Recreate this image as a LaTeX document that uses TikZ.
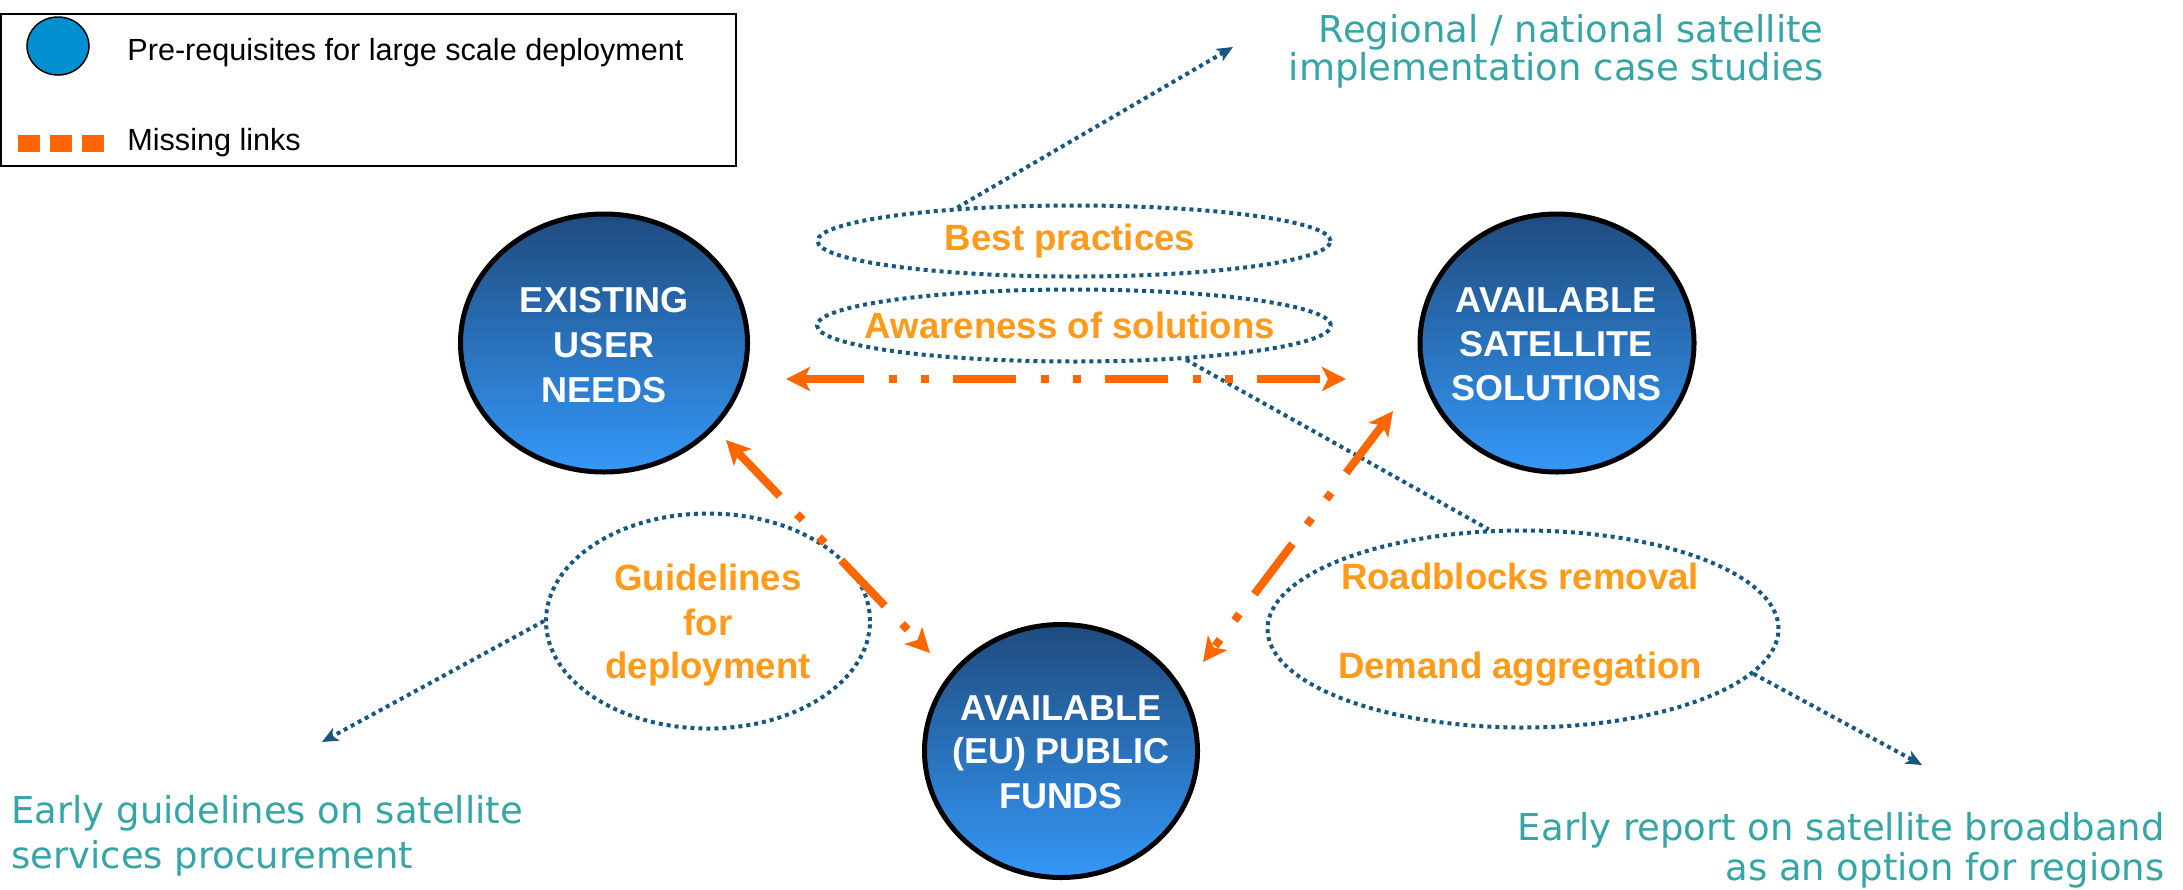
\documentclass[tikz,border=0pt]{standalone}
\usepackage{fontspec}
\setmainfont{Liberation Sans}
\newfontfamily\tealfont{DejaVu Sans}
\usetikzlibrary{shapes.geometric,arrows.meta,calc}
\definecolor{linkorange}{HTML}{FF6600}
\definecolor{txtorange}{HTML}{FF9A1A}
\definecolor{dotblue}{HTML}{175880}
\definecolor{tealtxt}{HTML}{35A5A5}
\definecolor{circtop}{HTML}{1F4B7E}
\definecolor{circbot}{HTML}{3498F8}
\definecolor{legblue}{HTML}{0090D0}
\begin{document}
\begin{tikzpicture}[x=0.5pt,y=-0.5pt,
 pillar/.style={ellipse, draw=black, line width=2.5pt, top color=circtop, bottom color=circbot, inner sep=0pt},
 pillartext/.style={anchor=base, text=white, font=\bfseries\fontsize{18}{20}\selectfont, inner sep=0pt},
 cloud/.style={ellipse, draw=dotblue, line width=2pt, dash pattern=on 2pt off 2pt, inner sep=0pt},
 cloudtext/.style={anchor=base, text=txtorange, font=\bfseries\fontsize{18.3}{20}\selectfont, inner sep=0pt},
 outcome/.style={text=tealtxt, font=\tealfont\fontsize{18.5}{20}\selectfont, inner sep=0pt},
 legtext/.style={anchor=base west, font=\fontsize{15.3}{17}\selectfont, inner sep=0pt},
 link/.style={draw=linkorange, line width=4pt, dash pattern=on 31.5pt off 12.5pt on 4pt off 12pt on 4pt off 12pt, dash phase=1pt, >={Stealth[length=12pt,width=12pt,inset=3pt]}, <->},
 dotline/.style={draw=dotblue, line width=2pt, dash pattern=on 2pt off 2pt},
 pointer/.style={dotline, >={Stealth[length=8pt,width=7pt,inset=2pt]}, ->},
]
\useasboundingbox (0,0) rectangle (2183,889);

% legend
\node[draw=black, line width=1pt, minimum width=367.5pt, minimum height=76pt, inner sep=0pt] (legend) at (368.5,90) {};
\node[ellipse, draw=black, line width=0.75pt, fill=legblue, minimum width=31pt, minimum height=29pt, inner sep=0pt] (legcirc) at (58,46) {};
\node[legtext] (legtxt1) at (127,60) {Pre-requisites for large scale deployment};
\draw[linkorange, line width=8.5pt, dash pattern=on 11pt off 5pt] (18,143) -- (104,143);
\node[legtext] (legtxt2) at (127,150) {Missing links};

% pillars
\node[pillar, minimum width=143.5pt, minimum height=129pt] (exist) at (604,343) {};
\node[pillar, minimum width=137pt, minimum height=129pt] (sat) at (1557,343) {};
\node[pillar, minimum width=136.5pt, minimum height=126.5pt] (funds) at (1061,751) {};
\node[pillartext] (existA) at (604,312) {EXISTING};
\node[pillartext] (existB) at (604,357) {USER};
\node[pillartext] (existC) at (604,402) {NEEDS};
\node[pillartext] (satA) at (1556,312) {AVAILABLE};
\node[pillartext] (satB) at (1556,356) {SATELLITE};
\node[pillartext] (satC) at (1556,400) {SOLUTIONS};
\node[pillartext] (fundsA) at (1061,720) {AVAILABLE};
\node[pillartext] (fundsB) at (1061,763) {(EU) PUBLIC};
\node[pillartext] (fundsC) at (1061,808) {FUNDS};

% clouds
\node[cloud, minimum width=256.5pt, minimum height=35.5pt] (best) at (1074,241) {};
\node[cloud, minimum width=257pt, minimum height=36pt] (aware) at (1074,325.5) {};
\node[cloud, minimum width=162pt, minimum height=107.5pt] (guide) at (708,621) {};
\node[cloud, minimum width=255.5pt, minimum height=98.5pt] (road) at (1523,629) {};
\node[cloudtext] (bestT) at (1070,250) {Best practices};
\node[cloudtext] (awareT) at (1070,338) {Awareness of solutions};
\node[cloudtext] (guideA) at (708,590) {Guidelines};
\node[cloudtext] (guideB) at (708,635) {for};
\node[cloudtext] (guideC) at (708,678) {deployment};
\node[cloudtext] (roadA) at (1520,589) {Roadblocks removal};
\node[cloudtext] (roadB) at (1520,678) {Demand aggregation};

% outcomes
\node[outcome, anchor=base east] (case1) at (1824,42) {Regional / national satellite};
\node[outcome, anchor=base east] (case2) at (1824,80) {implementation case studies};
\node[outcome, anchor=base west] (proc1) at (11,823) {Early guidelines on satellite};
\node[outcome, anchor=base west] (proc2) at (11,868) {services procurement};
\node[outcome, anchor=base east] (rep1) at (2165,840) {Early report on satellite broadband};
\node[outcome, anchor=base east] (rep2) at (2165,880) {as an option for regions};

% pointers
\coordinate (casetip) at (1233,47);
\coordinate (proctip) at (322,742);
\coordinate (reptip) at (1922,765);
\draw[pointer] (best.164) -- (casetip);
\draw[pointer] (guide.west) -- (proctip);
\draw[pointer] (road.-11) -- (reptip);
\draw[dotline] (aware.-17) -- (road.109);

% missing links
\draw[link] ($(exist.east)+(36,36)$) -- ($(sat.west)+(-71.5,36)$);
\draw[link] ($(exist.east)+(-24,97)$) -- ($(funds.west)+(8,-98)$);
\draw[link] ($(sat.west)+(-24.5,68)$) -- ($(funds.east)+(3,-89)$);
\end{tikzpicture}
\end{document}
